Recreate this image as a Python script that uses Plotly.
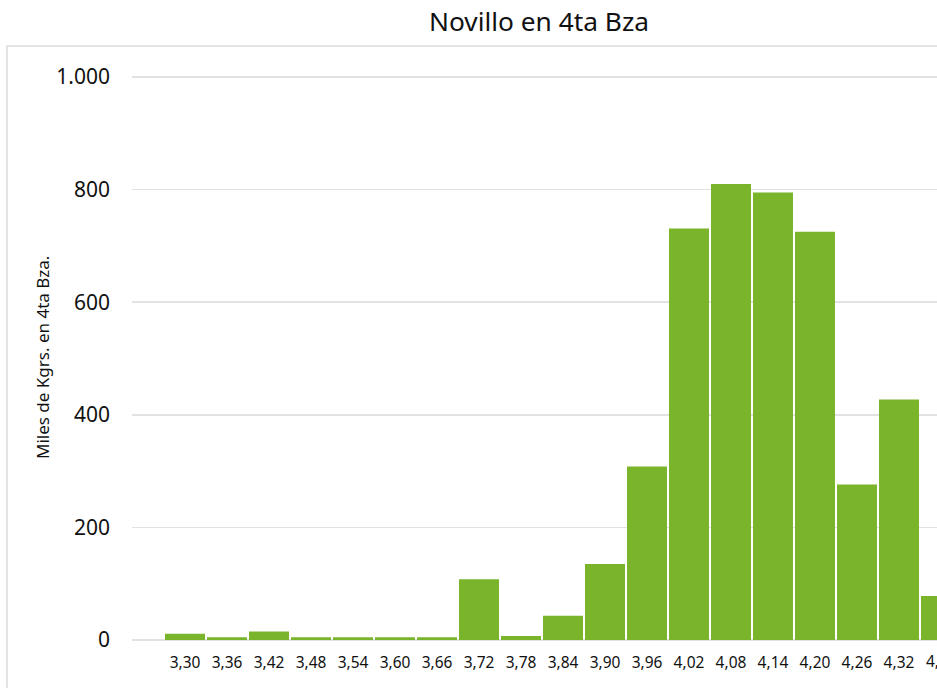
import plotly.graph_objects as go

categories = ["3,30", "3,36", "3,42", "3,48", "3,54", "3,60", "3,66", "3,72", "3,78", "3,84",
              "3,90", "3,96", "4,02", "4,08", "4,14", "4,20", "4,26", "4,32", "4,38"]
values = [11, 5, 15, 5, 5, 5, 5, 108, 7, 43, 135, 308, 731, 810, 795, 725, 276, 427, 78]
y_ticks = [0, 200, 400, 600, 800, 1000]

W, H = 937, 688
L, R, T, B = 132, 0, 70, 44
x_range = [-1.262, 17.905]
y_range = [-7.1, 1012.4]
font = "Noto Sans, Open Sans, sans-serif"
txt = "#111111"

fig = go.Figure(go.Bar(
    x=list(range(len(categories))), y=values,
    marker=dict(color="#79B42A", line=dict(width=0)),
    hoverinfo="skip",
))

pw = W - L - R
ph = H - T - B

fig.update_layout(
    width=W, height=H,
    margin=dict(l=L, r=R, t=T, b=B, pad=0),
    paper_bgcolor="white", plot_bgcolor="white",
    separators=",.",
    bargap=0.048,
    showlegend=False,
    font=dict(family=font, color=txt),
    title=dict(text="Novillo en 4ta Bza", xref="container", x=539 / W,
               yref="container", y=1 - 22 / H, xanchor="center", yanchor="middle",
               font=dict(size=26.3, family=font, color=txt)),
    xaxis=dict(range=x_range, tickmode="array",
               tickvals=list(range(len(categories))), ticktext=categories,
               showgrid=False, zeroline=False, showline=False,
               ticks="", tickfont=dict(size=15.5, color=txt),
               ticklabelstandoff=7),
    yaxis=dict(range=y_range, tickmode="array", tickvals=y_ticks,
               tickformat=",d",
               showgrid=True, gridcolor="#e2e2e2", gridwidth=1.5,
               zeroline=True, zerolinecolor="#e2e2e2", zerolinewidth=1.5,
               showline=False, ticks="", tickfont=dict(size=21, color=txt),
               ticklabelstandoff=21),
)

# y axis title
fig.add_annotation(text="Miles de Kgrs. en 4ta Bza.", xref="paper", yref="paper",
                   x=(42 - L) / pw, y=(H - B - 358) / ph, textangle=-90,
                   showarrow=False, xanchor="center", yanchor="middle",
                   font=dict(size=17, family=font, color=txt))

# clipped last tick label (its category sits at the plot's right edge)
fig.add_annotation(text=categories[-1], xref="paper", x=(941 - L) / pw,
                   yref="paper", y=(H - B - 661) / ph, showarrow=False,
                   xanchor="center", yanchor="middle",
                   font=dict(size=15.5, family=font, color=txt))

# chart area border
fig.add_shape(type="rect", xref="paper", yref="paper",
              x0=(7 - L) / pw, x1=1.1, y0=-0.3, y1=(H - B - 46) / ph,
              line=dict(color="#dcdcdc", width=1.5), fillcolor="rgba(0,0,0,0)",
              layer="below")

fig.write_html("out.html", config={"displayModeBar": False, "staticPlot": True},
               post_script="document.body.style.margin='0';document.body.style.overflow='hidden';")
